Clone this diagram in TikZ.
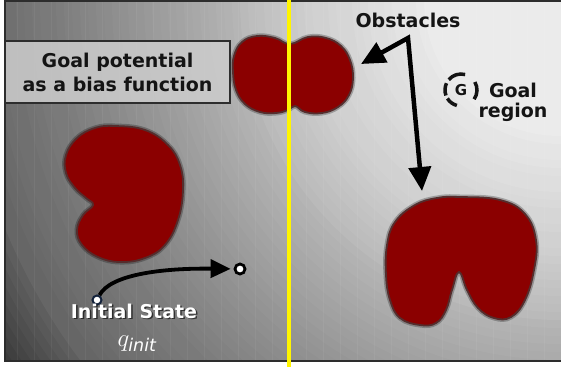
\documentclass[tikz,border=0pt]{standalone}
\usepackage{fontspec}
\setmainfont{DejaVu Sans}
\usetikzlibrary{arrows.meta,calc}
\definecolor{obsred}{RGB}{139,0,0}
\definecolor{obsedge}{RGB}{85,45,45}
\definecolor{frameclr}{RGB}{45,45,45}
\definecolor{ylw}{RGB}{255,245,0}
\definecolor{txt}{RGB}{20,20,20}
\definecolor{boxfill}{RGB}{205,205,205}
\definecolor{navy}{RGB}{20,35,60}
\begin{document}
\begin{tikzpicture}[x=1pt,y=-1pt,
  obstacle/.style={fill=obsred,draw=obsedge,line width=1.8pt,
    preaction={draw=black,opacity=0.25,line width=5pt}},
  lbl/.style={font=\bfseries\fontsize{19}{24}\selectfont,text=txt,inner sep=0pt},
  biasbox/.style={draw=frameclr,line width=1.2pt,fill=boxfill,fill opacity=0.85,
    text opacity=1,minimum width=225pt,minimum height=62pt,align=center,inner sep=0pt,
    font=\bfseries\fontsize{19}{24}\selectfont,text=txt},
  bigarrow/.style={line width=4.5pt,
    {Triangle[length=24pt,width=22pt]}-{Triangle[length=24pt,width=22pt]}},
  patharrow/.style={line width=3.8pt,-{Triangle[length=20pt,width=18pt]}},
  enddot/.style={circle,fill=white,draw=black,line width=2.8pt,minimum size=10pt,inner sep=0pt},
  startdot/.style={circle,fill=white,draw=navy,line width=2pt,minimum size=9pt,inner sep=0pt},
  gring/.style={line width=3.5pt,draw=txt},
  gridln/.style={draw=white,opacity=0.05,line width=0.6pt},
  ylwline/.style={draw=ylw,line width=3.5pt},
]
\useasboundingbox (0,0) rectangle (561,368);
\fill[white] (0,0) rectangle (561,368);

% background gradient
\begin{scope}
\clip (5,1) rectangle (561,361);
\foreach \r in {720,712,...,8}{
  \pgfmathtruncatemacro\p{\r<140 ? 92 : (\r<270 ? 92-(\r-140)*12/130 : (\r<370 ? 80-(\r-270)*14/100 : (\r<500 ? 66-(\r-370)*16/130 : (\r<600 ? 50-(\r-500)*10/100 : (\r<670 ? 40-(\r-600)*18/70 : 22)))))}
  \fill[white!\p!black] (560,0) circle[radius=\r pt];
}
\draw[gridln] (5,1) grid[step=17] (561,361);
\end{scope}
\draw[frameclr,line width=2pt] (561,1) -- (5,1) -- (5,361) -- (561,361);

% obstacles
\draw[obstacle] plot[smooth cycle,tension=0.7] coordinates {
 (290,44) (275,38) (257,36) (242,42) (234,56) (233,72) (236,90) (245,104) (260,112)
 (276,113) (288,110) (295,106) (305,112) (322,113) (338,107) (349,95) (353,78)
 (350,60) (341,46) (326,38) (308,37)};
\draw[obstacle] plot[smooth cycle,tension=0.7] coordinates {
 (115,126) (145,130) (168,145) (180,165) (183,190) (178,220) (165,245) (145,258)
 (120,262) (98,257) (82,245) (77,230) (83,215) (93,205) (86,198) (75,188) (66,173)
 (66,155) (77,138) (95,128)};
\draw[obstacle] plot[smooth cycle,tension=0.7] coordinates {
 (460,197) (500,200) (525,214) (536,240) (534,270) (525,300) (511,317) (494,318)
 (478,308) (467,290) (459,272) (452,290) (446,310) (436,323) (420,325) (400,318)
 (390,300) (386,275) (387,245) (395,222) (415,205) (437,198)};

% bias box
\node[biasbox] (bias) at (117.5,72) {Goal potential\\as a bias function};

% yellow divider
\draw[ylwline] (289,0) -- (289,367);

% obstacles label and arrows
\node[lbl,anchor=base] (obs) at (408,27) {Obstacles};
\coordinate (apex) at (408,38);
\coordinate (tipA) at (361,64);
\coordinate (tipB) at (422,191);
\draw[bigarrow] (tipA) -- (apex) -- (tipB);

% goal region
\node[font=\bfseries\fontsize{15}{15}\selectfont,text=txt,inner sep=0pt] (gnode) at (461,90) {G};
\draw[gring] ([shift={(-75:16)}]gnode.center) arc[start angle=-75,end angle=-140,radius=16];
\draw[gring] ([shift={(-155:16)}]gnode.center) arc[start angle=-155,end angle=-200,radius=16];
\draw[gring] ([shift={(-212:16)}]gnode.center) arc[start angle=-212,end angle=-255,radius=16];
\draw[gring] ([shift={(35:16)}]gnode.center) arc[start angle=35,end angle=-30,radius=16];
\node[lbl,anchor=base] (goal1) at (513,97) {Goal};
\node[lbl,anchor=base] (goal2) at (513,117) {region};

% initial state
\node[startdot] (s) at (97,300) {};
\node[enddot] (e) at (240,269) {};
\draw[patharrow,shorten >=3pt] (s) .. controls (110,275) and (160,268) .. (e);
\node[lbl,text=black,opacity=0.6,anchor=base] (initsh) at (135.5,319.5) {Initial State};
\node[lbl,text=white,anchor=base] (init) at (134,318) {Initial State};
\node[text=white,inner sep=0pt,font=\fontsize{25}{25}\selectfont] (q) at (137,344) {$q_{\mathit{init}}$};
\end{tikzpicture}
\end{document}
